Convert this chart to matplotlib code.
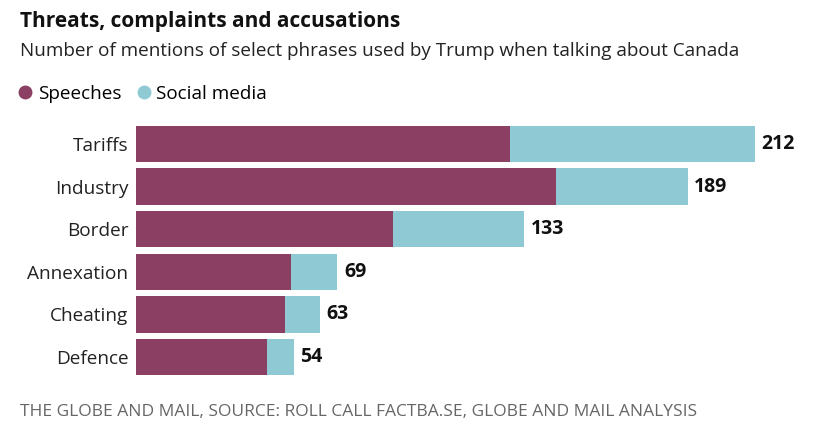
import matplotlib.pyplot as plt
from matplotlib.lines import Line2D

# data
phrases = ['Tariffs', 'Industry', 'Border', 'Annexation', 'Cheating', 'Defence']
speeches = [128, 144, 88, 53, 51, 45]
social = [84, 45, 45, 16, 12, 9]
totals = [s + m for s, m in zip(speeches, social)]

c_speech = '#8b3f62'
c_social = '#8fcad4'
plt.rcParams['font.family'] = ['Open Sans', 'DejaVu Sans']

W, H = 831, 430
fig = plt.figure(figsize=(W/100, H/100), dpi=100)

# axes placed in pixel terms: zero line at x=136, bars span rows 122..378
x0, x1 = 136, 815
ytop, ybot = 122.7, 378.3
ax = fig.add_axes([x0/W, 1 - ybot/H, (x1 - x0)/W, (ybot - ytop)/H])
pxu = 2.92
ax.set_xlim(0, (x1 - x0)/pxu)
ax.set_ylim(len(phrases) - 0.5, -0.5)

ypos = range(len(phrases))
ax.barh(ypos, speeches, height=0.85, color=c_speech)
ax.barh(ypos, social, left=speeches, height=0.85, color=c_social)
for y, t in zip(ypos, totals):
    ax.text(t + 2.2, y, str(t), va='center', ha='left', fontsize=14,
            fontweight='bold', color='#111111')

ax.set_yticks(list(ypos))
ax.set_yticklabels(phrases, fontsize=13.7, color='#222222')
ax.tick_params(axis='y', length=0, pad=5.5)
ax.set_xticks([])
for s in ax.spines.values():
    s.set_visible(False)

fig.text(20/W, 1 - 21/H, 'Threats, complaints and accusations', fontsize=15,
         fontweight='bold', va='center', ha='left', color='#111111')
fig.text(20/W, 1 - 51/H, 'Number of mentions of select phrases used by Trump when talking about Canada',
         fontsize=13.6, va='center', ha='left', color='#222222')

handles = [Line2D([], [], marker='o', ls='', color=c_speech, markersize=9),
           Line2D([], [], marker='o', ls='', color=c_social, markersize=9)]
fig.legend(handles, ['Speeches', 'Social media'], loc='center left',
           bbox_to_anchor=(16/W, 1 - 94/H), ncol=2, frameon=False,
           fontsize=13.6, handletextpad=0.15, columnspacing=0.7,
           handlelength=1.0, borderaxespad=0, borderpad=0)

fig.text(20/W, 1 - 412/H, 'THE GLOBE AND MAIL, SOURCE: ROLL CALL FACTBA.SE, GLOBE AND MAIL ANALYSIS',
         fontsize=12.5, va='center', ha='left', color='#666666')

fig.savefig('out.png', dpi=100, facecolor='white')
